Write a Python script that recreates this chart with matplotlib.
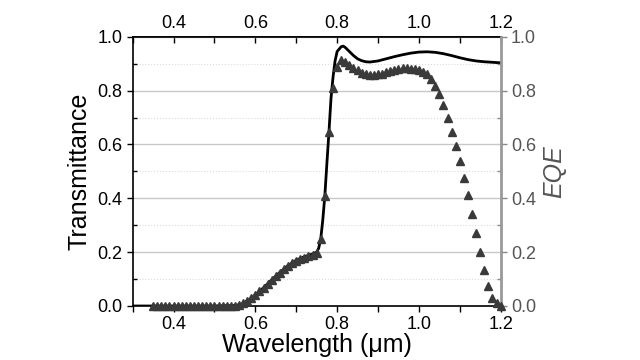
import matplotlib
matplotlib.use("Agg")
import matplotlib.pyplot as plt
from matplotlib.ticker import MultipleLocator, FormatStrFormatter

plt.rcParams['font.family'] = ['Liberation Sans', 'DejaVu Sans']

# Transmittance curve (wavelength in um)
t_wl = [0.30, 0.50, 0.55, 0.565, 0.58, 0.60, 0.62, 0.64, 0.66, 0.68, 0.70, 0.72,
        0.74, 0.75, 0.755, 0.76, 0.765, 0.77, 0.775, 0.78, 0.785, 0.79, 0.795,
        0.80, 0.81, 0.815, 0.82, 0.83, 0.84, 0.85, 0.86, 0.87, 0.88, 0.90, 0.92,
        0.94, 0.96, 0.98, 1.00, 1.02, 1.04, 1.06, 1.08, 1.10, 1.12, 1.14, 1.16,
        1.18, 1.20]
t_val = [0.0, 0.0, 0.002, 0.006, 0.018, 0.040, 0.068, 0.097, 0.125, 0.150, 0.170,
         0.183, 0.193, 0.200, 0.215, 0.25, 0.32, 0.41, 0.53, 0.645, 0.77, 0.85,
         0.91, 0.945, 0.963, 0.965, 0.96, 0.945, 0.93, 0.918, 0.911, 0.907, 0.906,
         0.910, 0.918, 0.926, 0.933, 0.939, 0.943, 0.944, 0.942, 0.937, 0.930,
         0.922, 0.915, 0.910, 0.907, 0.905, 0.903]

# EQE points, 0.35 .. 1.20 um every 0.01 um
eqe_wl = [round(0.35 + 0.01 * i, 2) for i in range(86)]
eqe_val = [0.0] * 21 + [
    0.005, 0.01, 0.02, 0.03, 0.04, 0.055, 0.068, 0.083, 0.097, 0.11,          # 0.56-0.65
    0.123, 0.137, 0.148, 0.158, 0.166, 0.173, 0.179, 0.185, 0.19, 0.198,      # 0.66-0.75
    0.25, 0.41, 0.645, 0.81,                                                  # 0.76-0.79
    0.889, 0.913, 0.907, 0.896, 0.883, 0.875, 0.867, 0.860, 0.858, 0.858,     # 0.80-0.89
    0.860, 0.863, 0.868, 0.873, 0.877, 0.880, 0.882, 0.882, 0.881, 0.879,     # 0.90-0.99
    0.876, 0.870, 0.860, 0.842, 0.817, 0.786, 0.746, 0.697, 0.647, 0.594,     # 1.00-1.09
    0.538, 0.476, 0.412, 0.342, 0.270, 0.202, 0.134, 0.074, 0.028, 0.010,     # 1.10-1.19
    0.0]                                                                       # 1.20

fig = plt.figure(figsize=(6.4, 3.6), dpi=100)
ax = fig.add_axes([0.2073, 0.15, 0.575, 0.748])

ax.plot(t_wl, t_val, color='black', lw=2.0, zorder=3)

ax.set_xlim(0.3, 1.2)
ax.set_ylim(0.0, 1.0)
ax.xaxis.set_major_locator(MultipleLocator(0.2))
ax.xaxis.set_minor_locator(MultipleLocator(0.1))
ax.yaxis.set_major_locator(MultipleLocator(0.2))
ax.yaxis.set_minor_locator(MultipleLocator(0.1))
ax.yaxis.grid(True, which='major', color='#c8c8c8', lw=1.0, ls='-')
ax.yaxis.grid(True, which='minor', color='#dcdcdc', lw=0.8, ls=':')
ax.set_axisbelow(True)

ax.tick_params(axis='x', which='both', direction='out', length=4, labelsize=13, width=1)
ax.tick_params(axis='y', which='major', direction='out', length=4, labelsize=13, width=1)
ax.tick_params(axis='y', which='minor', direction='in', length=3, width=1)
ax.xaxis.set_major_formatter(FormatStrFormatter('%.1f'))
ax.yaxis.set_major_formatter(FormatStrFormatter('%.1f'))
ax.set_xlabel('Wavelength (\u03bcm)', fontsize=18, labelpad=0)
ax.set_ylabel('Transmittance', fontsize=18, labelpad=4)
for s in ['left', 'bottom', 'top']:
    ax.spines[s].set_linewidth(1.2)
ax.spines['right'].set_visible(False)

ax2 = ax.twinx()
ax2.set_ylim(0.0, 1.0)
ax2.plot(eqe_wl, eqe_val, ls='none', marker='^', ms=5.5, color='#3a3a3a', zorder=4, clip_on=False)
ax2.yaxis.set_major_locator(MultipleLocator(0.2))
ax2.yaxis.set_minor_locator(MultipleLocator(0.1))
ax2.yaxis.set_major_formatter(FormatStrFormatter('%.1f'))
ax2.tick_params(axis='y', which='major', direction='out', length=4, labelsize=13,
                colors='#888888', labelcolor='#555555', width=1)
ax2.tick_params(axis='y', which='minor', direction='in', length=3, colors='#888888', width=1)
ax2.set_ylabel('EQE', fontsize=18, style='italic', color='#555555', labelpad=4)
ax2.spines['right'].set_color('#999999')
ax2.spines['right'].set_linewidth(2.0)
for s in ['left', 'bottom', 'top']:
    ax2.spines[s].set_visible(False)
ax2.set_xlim(0.3, 1.2)

top = ax.secondary_xaxis('top')
top.xaxis.set_major_locator(MultipleLocator(0.2))
top.xaxis.set_minor_locator(MultipleLocator(0.1))
top.xaxis.set_major_formatter(FormatStrFormatter('%.1f'))
top.tick_params(axis='x', which='both', direction='in', length=4, labelsize=13, width=1)
top.spines['top'].set_linewidth(1.2)

fig.savefig('out.png', dpi=100)
